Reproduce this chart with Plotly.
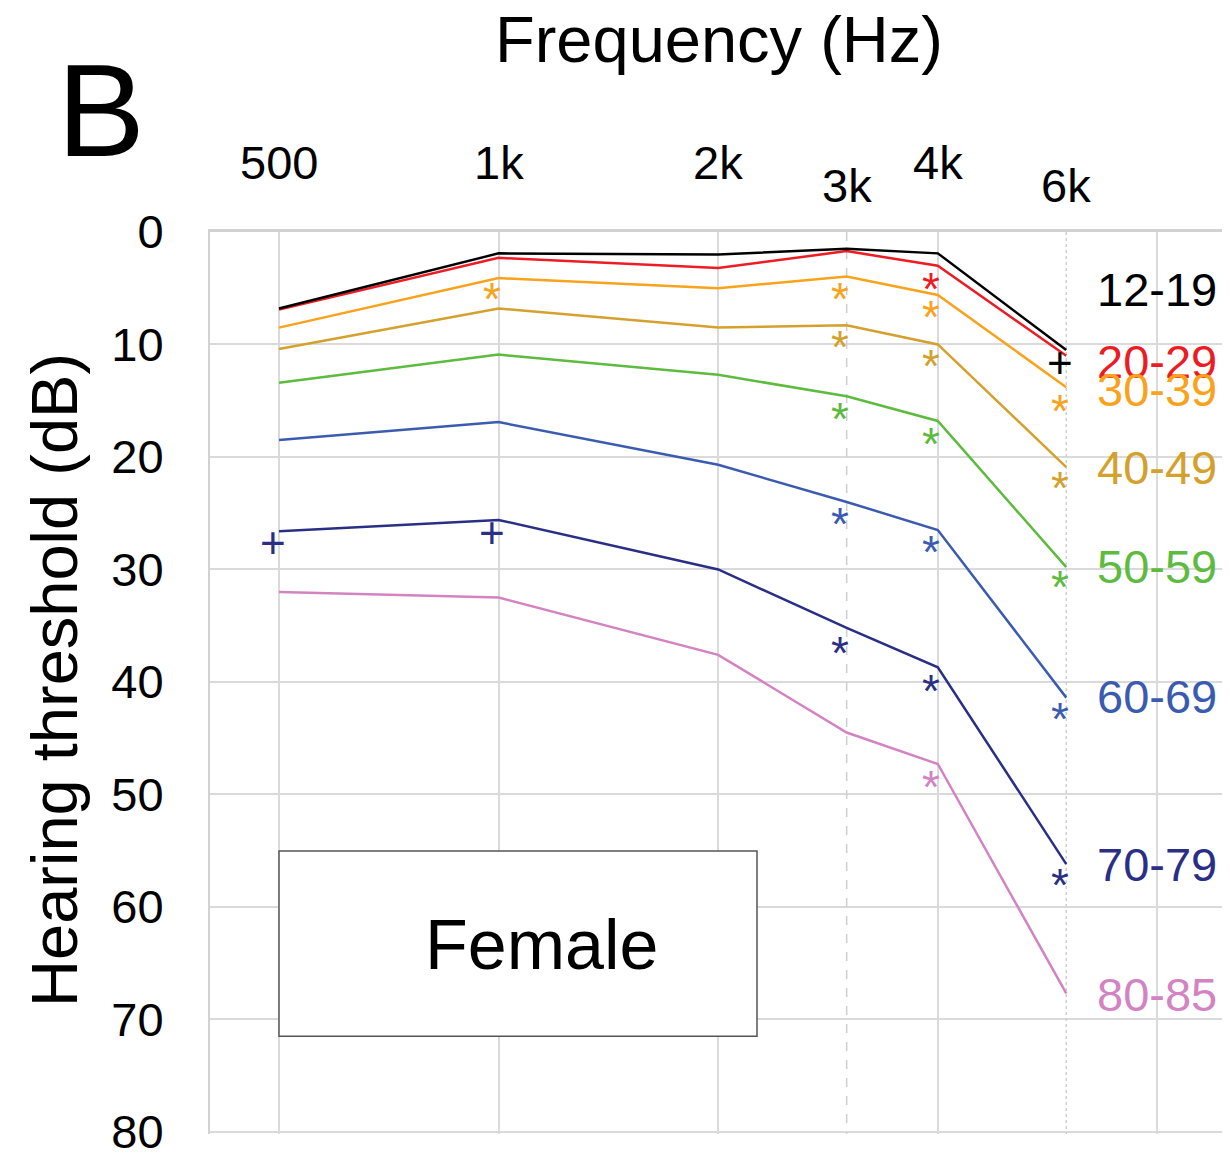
import math
import plotly.graph_objects as go

# ---------------- data ----------------
freqs = [500, 1000, 2000, 3000, 4000, 6000]
age_groups = ["12-19", "20-29", "30-39", "40-49", "50-59", "60-69", "70-79", "80-85"]

th_12_19 = [6.8, 1.9, 2.0, 1.5, 1.9, 10.5]
th_20_29 = [6.9, 2.3, 3.2, 1.7, 3.0, 11.0]
th_30_39 = [8.5, 4.1, 5.0, 3.95, 5.6, 13.8]
th_40_49 = [10.4, 6.8, 8.5, 8.3, 10.0, 20.9]
th_50_59 = [13.4, 10.9, 12.7, 14.6, 16.8, 29.8]
th_60_69 = [18.5, 16.9, 20.7, 24.0, 26.5, 41.4]
th_70_79 = [26.6, 25.6, 30.0, 35.2, 38.7, 56.2]
th_80_85 = [32.0, 32.5, 37.6, 44.5, 47.3, 67.7]
thresholds = [th_12_19, th_20_29, th_30_39, th_40_49, th_50_59, th_60_69, th_70_79, th_80_85]

# vertical position (dB) of the age-group labels at the right
label_db = [5.1, 11.5, 14.0, 20.9, 29.7, 41.3, 56.2, 67.8]

colors = ["#000000", "#ED1C24", "#F9A21C", "#D4A12E", "#5DBB3F", "#3B5BB0", "#2A2F85", "#D483C2"]

# significance marks
sig_group = [0, 1, 2, 2, 2, 2, 3, 3, 3, 4, 4, 4, 5, 5, 5, 6, 6, 6, 6, 6, 7]
sig_freq = [6000, 4000, 1000, 3000, 4000, 6000, 3000, 4000, 6000, 3000, 4000, 6000,
            3000, 4000, 6000, 500, 1000, 3000, 4000, 6000, 4000]
sig_db = [11.6, 4.2, 5.1, 5.1, 6.7, 15.0, 9.3, 11.0, 21.9, 15.75, 18.0, 30.7,
          25.1, 27.6, 42.4, 27.6, 26.7, 36.5, 39.9, 57.2, 48.5]
sig_symbol = ["+", "*", "*", "*", "*", "*", "*", "*", "*", "*", "*", "*",
              "*", "*", "*", "+", "+", "*", "*", "*", "*"]

freq_tick_vals = [500, 1000, 2000, 3000, 4000, 6000]
freq_tick_text = ["500", "1k", "2k", "3k", "4k", "6k"]
freq_tick_row = [0, 0, 0, 1, 0, 1]
grid_freqs = [500, 1000, 2000, 4000, 8000]
db_ticks = [0, 10, 20, 30, 40, 50, 60, 70, 80]

FONT = "Liberation Sans, Arial, Helvetica, sans-serif"

# ---------------- figure ----------------
OFF = 8  # page body margin
W, H = 1230 - OFF, 1158 - OFF
L, T = 210 - OFF, 232 - OFF
plot_w = W - L
plot_h = 904 * 80.2 / 80
B = H - T - plot_h


def px_x(p):  # reference page x pixel -> paper x
    return (p - OFF - L) / plot_w


def px_y(p):  # reference page y pixel -> paper y
    return (T + plot_h - (p - OFF)) / plot_h


fig = go.Figure()

# dashed 3k and dotted 6k reference lines
fig.add_trace(go.Scatter(x=[3000, 3000], y=[0, 80.2], mode="lines",
                         line=dict(color="#cfcfcf", width=1.5, dash="dash"),
                         hoverinfo="skip", showlegend=False))
fig.add_trace(go.Scatter(x=[6000, 6000], y=[0, 80.2], mode="lines",
                         line=dict(color="#cfcfcf", width=1.5, dash="dot"),
                         hoverinfo="skip", showlegend=False))

for grp, vals, col in reversed(list(zip(age_groups, thresholds, colors))):
    fig.add_trace(go.Scatter(x=freqs, y=vals, mode="lines", name=grp,
                             line=dict(color=col, width=2.5), showlegend=False))

annotations = []

# significance marks
for g, f, d, s in zip(sig_group, sig_freq, sig_db, sig_symbol):
    annotations.append(dict(
        x=math.log10(f), y=d, xref="x", yref="y", text=s, showarrow=False,
        xanchor="center", yanchor="middle", xshift=-6.5,
        yshift=-10 if s == "*" else 0,
        font=dict(family=FONT, size=46 if s == "*" else 44, color=colors[g])))

# right-side age labels
for grp, ydb, col in zip(age_groups, label_db, colors):
    annotations.append(dict(
        x=math.log10(6000), y=ydb, xref="x", yref="y", text=grp, showarrow=False,
        xanchor="left", yanchor="middle", xshift=29,
        font=dict(family=FONT, size=47, color=col)))

# frequency tick labels (staggered, at top)
for v, t, r in zip(freq_tick_vals, freq_tick_text, freq_tick_row):
    ypx = 162 if r == 0 else 185
    annotations.append(dict(
        x=math.log10(v), y=px_y(ypx), xref="x", yref="paper", text=t,
        showarrow=False, xanchor="center", yanchor="middle",
        font=dict(family=FONT, size=47, color="#000000")))

# x title
annotations.append(dict(
    x=px_x(719), y=px_y(38.5), xref="paper", yref="paper",
    text="Frequency (Hz)", showarrow=False, xanchor="center", yanchor="middle",
    font=dict(family=FONT, size=65, color="#000000")))

# panel letter
annotations.append(dict(
    x=px_x(101), y=px_y(110), xref="paper", yref="paper",
    text="B", showarrow=False, xanchor="center", yanchor="middle",
    font=dict(family=FONT, size=132, color="#000000")))

# y title
annotations.append(dict(
    x=px_x(55), y=px_y(682), xref="paper", yref="paper",
    text="Hearing threshold (dB)", showarrow=False, textangle=-90,
    xanchor="center", yanchor="middle",
    font=dict(family=FONT, size=65, color="#000000")))

# Female label
annotations.append(dict(
    x=px_x(541), y=px_y(948.7), xref="paper", yref="paper",
    text="Female", showarrow=False, xanchor="center", yanchor="middle",
    font=dict(family=FONT, size=70, color="#000000")))

shapes = [dict(
    type="rect", xref="paper", yref="paper",
    x0=px_x(279), x1=px_x(757), y0=px_y(1040), y1=px_y(854),
    fillcolor="white", line=dict(color="#555555", width=1.5), layer="above")]

x_lo = math.log10(500) - (279 - 210) * (math.log10(2) / 219.6)
x_hi = x_lo + plot_w * (math.log10(2) / 219.6)

fig.update_layout(
    width=W, height=H,
    margin=dict(l=L, r=0, t=T, b=B, pad=0),
    paper_bgcolor="white", plot_bgcolor="white",
    showlegend=False,
    annotations=annotations,
    shapes=shapes,
    xaxis=dict(type="log", range=[x_lo, x_hi], side="top",
               tickvals=grid_freqs, showticklabels=False, ticks="",
               showgrid=True, gridcolor="#dadada", gridwidth=1.5,
               showline=True, linecolor="#d2d2d2", linewidth=2.5,
               zeroline=False),
    yaxis=dict(range=[80.2, 0], tickvals=db_ticks, ticks="",
               ticklabelstandoff=35, ticklabeloverflow="allow",
               tickfont=dict(family=FONT, size=47, color="#000000"),
               showgrid=True, gridcolor="#dadada", gridwidth=1.5,
               showline=True, linecolor="#d2d2d2", linewidth=2,
               zeroline=False),
)

fig.write_html("out.html")
